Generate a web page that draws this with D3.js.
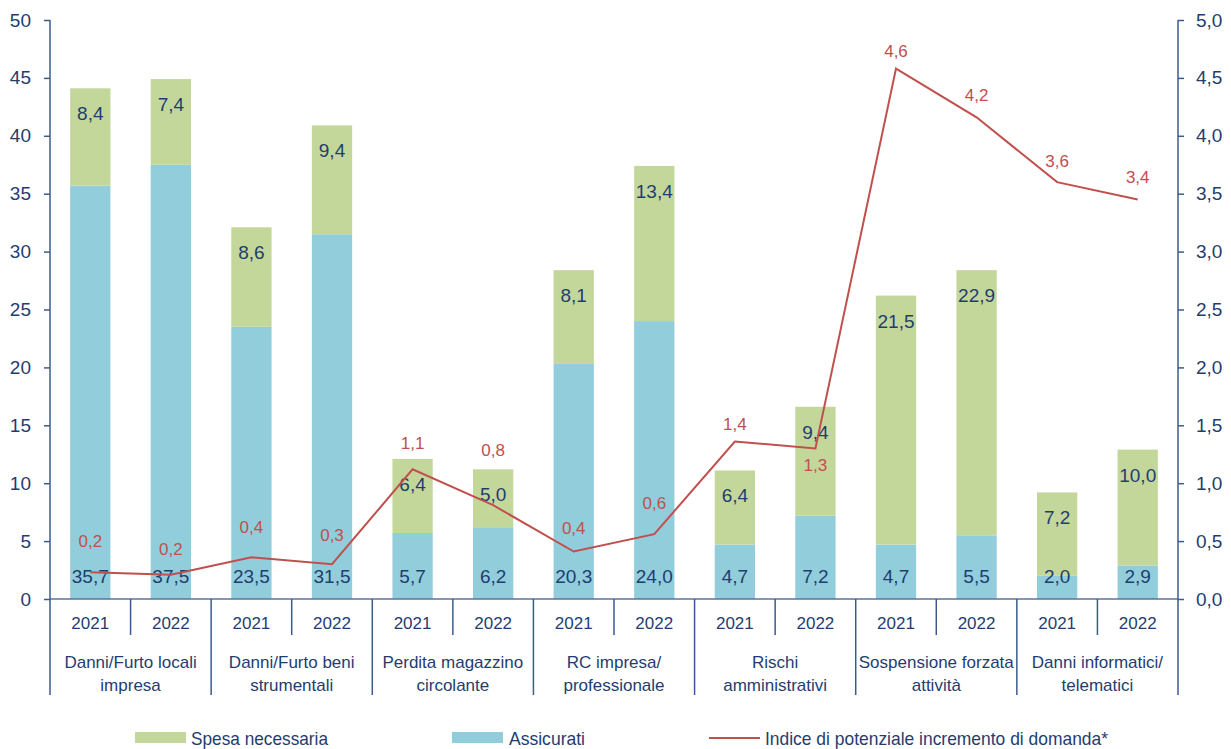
<!DOCTYPE html>
<html><head><meta charset="utf-8">
<script src="https://cdn.jsdelivr.net/npm/d3@7/dist/d3.min.js"></script>
<style>
body{margin:0;background:#fff;}
text{font-family:"Liberation Sans",Arial,sans-serif;}
</style></head>
<body><svg id="c" width="1231" height="749"></svg>
<script>
const categories = [
  ["Danni/Furto locali","impresa"],
  ["Danni/Furto beni","strumentali"],
  ["Perdita magazzino","circolante"],
  ["RC impresa/","professionale"],
  ["Rischi","amministrativi"],
  ["Sospensione forzata","attività"],
  ["Danni informatici/","telematici"]
];
const years = ["2021","2022"];
const assicurati = [35.7,37.5, 23.5,31.5, 5.7,6.2, 20.3,24.0, 4.7,7.2, 4.7,5.5, 2.0,2.9];
const spesa =      [8.4,7.4,   8.6,9.4,   6.4,5.0, 8.1,13.4,  6.4,9.4, 21.5,22.9, 7.2,10.0];
const indice =     [0.23,0.21, 0.36,0.30, 1.12,0.81, 0.41,0.56, 1.36,1.30, 4.58,4.16, 3.60,3.45];
const indiceLabels = ["0,2","0,2","0,4","0,3","1,1","0,8","0,4","0,6","1,4","1,3","4,6","4,2","3,6","3,4"];
const leftTicks = [0,5,10,15,20,25,30,35,40,45,50];
const rightTicks = [0,0.5,1,1.5,2,2.5,3,3.5,4,4.5,5];
const legendLabels = ["Spesa necessaria","Assicurati","Indice di potenziale incremento di domanda*"];

const C = {green:"#c4d79b", blue:"#92cddc", red:"#c0504d", text:"#1f3d70", axis:"#3b5b8c"};
const fmt = v => v.toFixed(1).replace(".", ",");
// label placement offsets (px, label centre relative to point) — styling only
const lineLabelShift = [-31,-26,-30,-29,-26,-55,-24,-31,-18,17,-18,-22,-21,-22];

const svg = d3.select("#c");
const L = 50, R = 1178, T = 20, B = 599;
const idx = d3.range(assicurati.length);
const x = d3.scaleBand().domain(idx).range([L,R]).paddingInner(0.5).paddingOuter(0.25);
const y = d3.scaleLinear().domain([0,50]).range([B,T]);
const y2 = d3.scaleLinear().domain([0,5]).range([B,T]);

// bars
const g = svg.append("g");
g.selectAll("rect.a").data(idx).join("rect")
  .attr("x", i=>x(i)).attr("width", x.bandwidth())
  .attr("y", i=>y(assicurati[i])).attr("height", i=>B-y(assicurati[i]))
  .attr("fill", C.blue);
g.selectAll("rect.s").data(idx).join("rect")
  .attr("x", i=>x(i)).attr("width", x.bandwidth())
  .attr("y", i=>y(assicurati[i]+spesa[i])).attr("height", i=>y(assicurati[i])-y(assicurati[i]+spesa[i]))
  .attr("fill", C.green);

// baseline
svg.append("line").attr("x1",L).attr("x2",R).attr("y1",B).attr("y2",B).attr("stroke","#5a7399").attr("stroke-width",1.5);

// axes
const ax = svg.append("g").attr("transform",`translate(${L},0)`)
  .call(d3.axisLeft(y).tickValues(leftTicks).tickSize(6).tickPadding(13).tickFormat(d=>d));
const ax2 = svg.append("g").attr("transform",`translate(${R},0)`)
  .call(d3.axisRight(y2).tickValues(rightTicks).tickSize(6).tickPadding(12).tickFormat(fmt));
[ax,ax2].forEach(a=>{
  a.select(".domain").remove();
  a.selectAll("line").attr("stroke",C.axis).attr("stroke-width",1.5);
  a.selectAll("text").attr("fill",C.text).style("font-size","19px");
});
svg.append("line").attr("x1",L).attr("x2",L).attr("y1",T).attr("y2",695).attr("stroke",C.axis).attr("stroke-width",1.5);
svg.append("line").attr("x1",R).attr("x2",R).attr("y1",T).attr("y2",695).attr("stroke",C.axis).attr("stroke-width",1.5);

// category axis
const slot = (R-L)/categories.length;
categories.forEach((c,ci)=>{
  const x0 = L + ci*slot;
  if (ci>0) svg.append("line").attr("x1",x0).attr("x2",x0).attr("y1",B).attr("y2",695).attr("stroke",C.axis).attr("stroke-width",1.5);
  svg.append("line").attr("x1",x0+slot/2).attr("x2",x0+slot/2).attr("y1",B).attr("y2",635).attr("stroke",C.axis).attr("stroke-width",1.5);
  const t = svg.append("text").attr("x",x0+slot/2).attr("y",668).attr("text-anchor","middle").attr("fill",C.text).style("font-size","17px");
  t.append("tspan").attr("x",x0+slot/2).text(c[0]);
  t.append("tspan").attr("x",x0+slot/2).attr("dy",23).text(c[1]);
});
idx.forEach(i=>{
  svg.append("text").attr("x",x(i)+x.bandwidth()/2).attr("y",629).attr("text-anchor","middle")
    .attr("fill",C.text).style("font-size","17px").text(years[i%2]);
});

// bar labels
g.selectAll("text.a").data(idx).join("text")
  .attr("x", i=>x(i)+x.bandwidth()/2).attr("y", B-16).attr("text-anchor","middle")
  .attr("fill",C.text).style("font-size","19px").attr("textLength", d=>null).text(i=>fmt(assicurati[i]));
g.selectAll("text.s").data(idx).join("text")
  .attr("x", i=>x(i)+x.bandwidth()/2).attr("y", i=>y(assicurati[i]+spesa[i])+32).attr("text-anchor","middle")
  .attr("fill",C.text).style("font-size","19px").text(i=>fmt(spesa[i]));

// line
const line = d3.line().x(i=>x(i)+x.bandwidth()/2).y(i=>y2(indice[i]));
svg.append("path").datum(idx).attr("d",line).attr("fill","none").attr("stroke",C.red).attr("stroke-width",2);
svg.selectAll("text.l").data(idx).join("text")
  .attr("x", i=>x(i)+x.bandwidth()/2)
  .attr("y", i=> y2(indice[i]) + lineLabelShift[i] + 6)
  .attr("text-anchor","middle").attr("fill",C.red).style("font-size","17px").text(i=>indiceLabels[i]);

// legend
const lg = svg.append("g");
lg.append("rect").attr("x",135).attr("y",732).attr("width",51).attr("height",11).attr("fill",C.green);
lg.append("text").attr("x",191).attr("y",745).attr("fill",C.text).style("font-size","19px")
  .attr("textLength",137).attr("lengthAdjust","spacingAndGlyphs").text(legendLabels[0]);
lg.append("rect").attr("x",452).attr("y",732).attr("width",51).attr("height",11).attr("fill",C.blue);
lg.append("text").attr("x",509).attr("y",745).attr("fill",C.text).style("font-size","19px")
  .attr("textLength",76).attr("lengthAdjust","spacingAndGlyphs").text(legendLabels[1]);
lg.append("line").attr("x1",709).attr("x2",760).attr("y1",738).attr("y2",738).attr("stroke",C.red).attr("stroke-width",2);
lg.append("text").attr("x",765).attr("y",745).attr("fill",C.text).style("font-size","19px")
  .attr("textLength",343).attr("lengthAdjust","spacingAndGlyphs").text(legendLabels[2]);
</script></body></html>
